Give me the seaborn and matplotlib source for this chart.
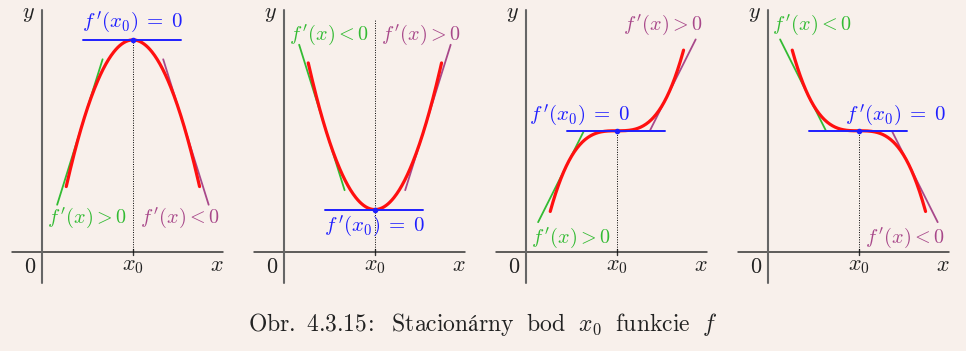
import numpy as np
import pandas as pd
import matplotlib
matplotlib.use("Agg")
import matplotlib.pyplot as plt
import seaborn as sns

# --- data ---
x0 = 3.0
curve_span = [0.8, 5.2]
curve_level = [7.0, 1.4, 4.0, 4.0]
curve_coef = [-1.0, 1.0, 0.25, -0.25]
curve_power = [2, 2, 3, 3]

tan_left_at = [1.4, 1.4, 1.37, 1.37]
tan_left_span = [(0.5, 2.0), (0.5, 2.0), (0.4, 1.9), (0.4, 1.9)]
tan_right_at = [4.6, 4.6, 4.63, 4.63]
tan_right_span = [(4.0, 5.5), (4.0, 5.5), (4.1, 5.6), (4.1, 5.6)]
flat_span = [1.35, 4.6]

left_labels = [r"$f\,'(x){>}0$", r"$f\,'(x){<}0$", r"$f\,'(x){>}0$", r"$f\,'(x){<}0$"]
right_labels = [r"$f\,'(x){<}0$", r"$f\,'(x){>}0$", r"$f\,'(x){>}0$", r"$f\,'(x){<}0$"]
flat_label = r"$f\,'(x_0)\;{=}\;0$"
caption = r"$\mathrm{Obr.\ 4.3.15\!:\ \ Stacionárny\ \ bod\ \ }x_0\mathrm{\ \ funkcie\ \ }f$"

# label positions (data units)
left_label_pos = [(1.49, 1.12), (1.49, 7.16), (1.49, 0.46), (1.45, 7.49)]
right_label_pos = [(4.55, 1.12), (4.52, 7.16), (4.52, 7.49), (4.52, 0.46)]
flat_label_pos = [(3.0, 7.59), (3.0, 0.86), (1.78, 4.52), (4.22, 4.52)]
dotted_top = [7.0, 7.66, 4.0, 4.0]

RED = "#ff1010"
GREEN = "#33bb33"
PURPLE = "#a8488a"
BLUE = "#1f1fff"
BG = "#f8f0eb"
INK = "#222222"

sns.set_theme(style="white")
plt.rcParams["mathtext.fontset"] = "cm"


def f(i, x):
    return curve_level[i] + curve_coef[i] * (x - x0) ** curve_power[i]


def df(i, x):
    return curve_coef[i] * curve_power[i] * (x - x0) ** (curve_power[i] - 1)


fig = plt.figure(figsize=(9.66, 3.51), dpi=100)
fig.patch.set_facecolor(BG)

W, H = 966.0, 351.0
unit = 30.3
xlim = (-1.2, 6.3)
ylim = (-1.3, 8.2)

for i in range(4):
    yaxis_px = 42 + 242 * i
    left = yaxis_px + xlim[0] * unit
    bottom = 99 + ylim[0] * unit
    ax = fig.add_axes([left / W, bottom / H,
                       (xlim[1] - xlim[0]) * unit / W,
                       (ylim[1] - ylim[0]) * unit / H])
    ax.set_xlim(*xlim)
    ax.set_ylim(*ylim)
    ax.set_axis_off()
    ax.patch.set_alpha(0)

    # coordinate axes
    ax.plot([-0.99, 5.97], [0, 0], color="#333333", lw=1.1)
    ax.plot([0, 0], [-1.02, 7.99], color="#666666", lw=1.5)
    ax.plot([x0, x0], [-0.1, 0.1], color="#333333", lw=1.0)
    ax.plot([x0, x0], [0, dotted_top[i]], color="black", lw=0.7, ls=(0, (1, 1.5)))

    # tangents
    for at, span, col in [(tan_left_at[i], tan_left_span[i], GREEN),
                          (tan_right_at[i], tan_right_span[i], PURPLE)]:
        tx = np.array(span)
        ty = f(i, at) + df(i, at) * (tx - at)
        sns.lineplot(x=tx, y=ty, color=col, lw=1.3, ax=ax, sort=False)

    # curve
    xs = np.linspace(curve_span[0], curve_span[1], 200)
    sns.lineplot(x=xs, y=f(i, xs), color=RED, lw=2.3, ax=ax, sort=False)

    # horizontal tangent at x0
    sns.lineplot(x=flat_span, y=[curve_level[i]] * 2, color=BLUE, lw=1.4, ax=ax)
    ax.plot([x0], [curve_level[i]], "o", color=BLUE, ms=3, zorder=5)

    # texts
    fs = 14.5
    ax.text(*left_label_pos[i], left_labels[i], color=GREEN, fontsize=fs, ha="center", va="center")
    ax.text(*right_label_pos[i], right_labels[i], color=PURPLE, fontsize=fs, ha="center", va="center")
    ax.text(*flat_label_pos[i], flat_label, color=BLUE, fontsize=15, ha="center", va="center")
    ax.text(-0.46, 7.86, r"$y$", fontsize=16, ha="center", va="center", color=INK)
    ax.text(5.78, -0.43, r"$x$", fontsize=16, ha="center", va="center", color=INK)
    ax.text(-0.4, -0.5, r"$0$", fontsize=16, ha="center", va="center", color=INK)
    ax.text(x0, -0.45, r"$x_0$", fontsize=16, ha="center", va="center", color=INK)

fig.text(483 / W, 1 - 325 / H, caption, fontsize=17, ha="center", va="center", color=INK)

fig.savefig("out.png", dpi=100, facecolor=BG)
